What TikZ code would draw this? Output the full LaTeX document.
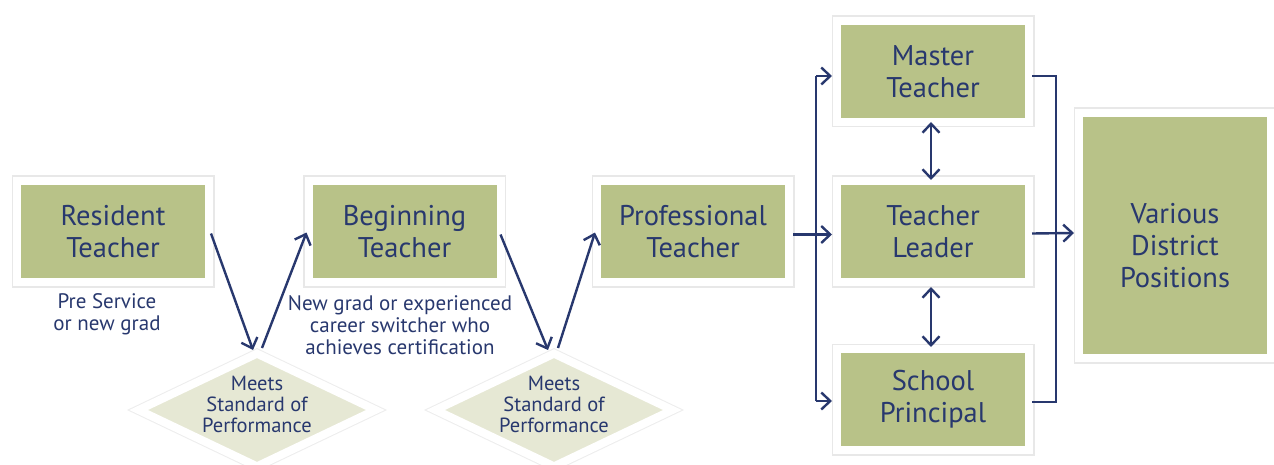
\documentclass[tikz,border=0pt]{standalone}
\usepackage{fontspec}
\setmainfont{PT Sans}
\usetikzlibrary{shapes.geometric,arrows.meta,calc}
\definecolor{navy}{HTML}{28386E}
\definecolor{olive}{HTML}{B8C288}
\definecolor{pale}{HTML}{E6E8D4}
\tikzset{
  boxfont/.style={text=navy, align=center, font=\fontsize{28.5}{32}\selectfont},
  box/.style={fill=olive, draw=white, line width=8pt, minimum width=192pt, minimum height=101pt,
    inner sep=0pt, boxfont,
    preaction={draw=black!9, line width=11pt}},
  dia/.style={diamond, fill=pale, draw=white, line width=8pt, minimum width=240pt, minimum height=116pt,
    inner sep=0pt, preaction={draw=black!7, line width=10pt}},
  dtext/.style={text=navy, align=center, font=\fontsize{20.5}{21}\selectfont, inner sep=0pt},
  note/.style={text=navy, align=center, font=\fontsize{21}{22}\selectfont, inner sep=0pt},
  arr/.style={draw=navy, line width=2.4pt, -{Straight Barb[length=9pt,width=17pt,line width=2.4pt]}},
  darr/.style={draw=navy, line width=2.4pt, {Straight Barb[length=9pt,width=17pt,line width=2.4pt]}-{Straight Barb[length=9pt,width=17pt,line width=2.4pt]}},
  ln/.style={draw=navy, line width=2.4pt}
}
\begin{document}
\begin{tikzpicture}[x=1pt,y=-1pt]
\useasboundingbox (0,0) rectangle (1274,465);
\fill[white] (0,0) rectangle (1274,465);
% diamonds
\node[dia] (d1) at (257,410) {};
\node[dia] (d2) at (554,410) {};
\node[dtext] (d1t) at (257,404) {Meets\\Standard of\\Performance};
\node[dtext] (d2t) at (554,404) {Meets\\Standard of\\Performance};
% boxes
\node[box] (rt) at (113,231.5) {Resident\\Teacher};
\node[box] (bt) at (404.5,231.5) {Beginning\\Teacher};
\node[box] (pt) at (693,231.5) {Professional\\Teacher};
\node[box] (mt) at (933,71.5) {Master\\Teacher};
\node[box] (tl) at (933,231.5) {Teacher\\Leader};
\node[box] (sp) at (933,399.5) {School\\Principal};
\node[box, minimum height=245pt] (vd) at (1175,235.5) {};
\node[boxfont, inner sep=0pt] (vdt) at (1175,246) {Various\\District\\Positions};
% notes
\node[note] (n1) at (107,314) {Pre Service\\or new grad};
\node[note] (n2) at (400,325) {New grad or experienced\\career switcher who\\achieves certification};
% arrows
\draw[arr] ($(rt.east)+(-2,2)$) -- ($(d1.north)+(-4,2)$);
\draw[arr] ($(d1.north)+(5,0)$) -- ($(bt.west)+(2,1)$);
\draw[arr] ($(bt.east)+(-4,3)$) -- ($(d2.north)+(-6,2)$);
\draw[arr] ($(d2.north)+(4,0)$) -- ($(pt.west)+(2,1)$);
\coordinate (vt) at (816,76);
\coordinate (vb) at (816,401);
\draw[ln] ($(pt.east)+(0,3)$) -- ($(tl.west)+(-4,3)$);
\draw[arr] ($(pt.east)+(22,3)$) -- ($(tl.west)+(-1,3)$);
\draw[ln] (vb) -- (vt);
\draw[arr] (vt) -- ($(mt.west)+(-1,4.5)$);
\draw[arr] (vb) -- ($(sp.west)+(-1,1.5)$);
\draw[darr] ($(mt.south)+(-2,-4)$) -- ($(tl.north)+(-2,3)$);
\draw[darr] ($(tl.south)+(-2,1)$) -- ($(sp.north)+(-2,2)$);
\coordinate (rtop) at (1056,76);
\coordinate (rbot) at (1056,402);
\draw[ln] ($(mt.east)+(-1,4.5)$) -- (rtop) -- (rbot) -- ($(sp.east)+(-1,2.5)$);
\draw[arr] ($(tl.east)+(-1,2)$) -- ($(vd.west)+(-1,-2.5)$);
\end{tikzpicture}
\end{document}
